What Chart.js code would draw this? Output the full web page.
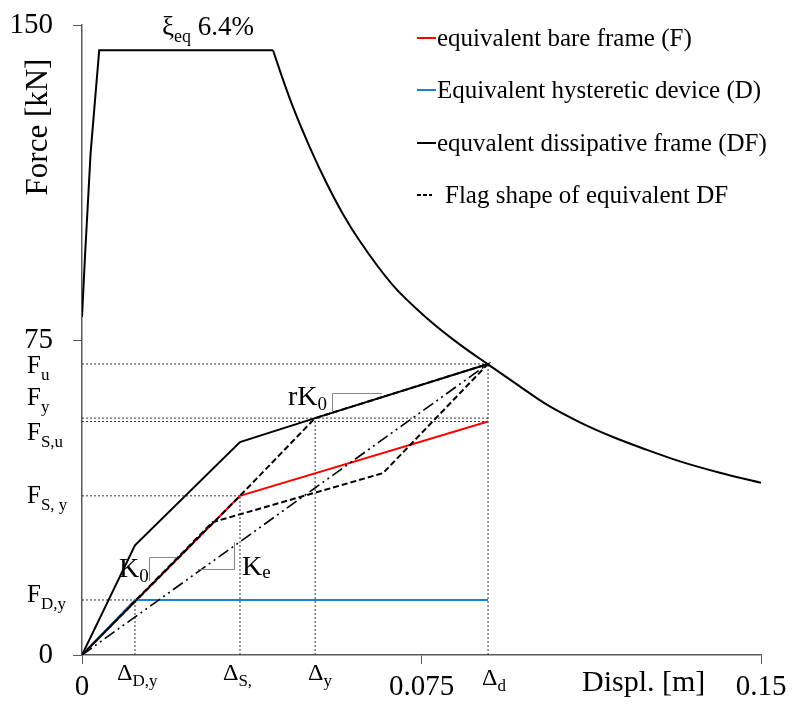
<!DOCTYPE html>
<html>
<head>
<meta charset="utf-8">
<script src="https://cdn.jsdelivr.net/npm/chart.js@4"></script>
<style>
  html, body { margin: 0; padding: 0; background: #fff; }
  #wrap { width: 793px; height: 704px; }
</style>
</head>
<body>
<div id="wrap"><canvas id="chart" width="793" height="704"></canvas></div>
<script>
const SERIF = '"Liberation Serif", "Times New Roman", serif';

// --- values ---
const xTicks = [0, 0.075, 0.15];
const xTickLabels = ['0', '0.075', '0.15'];
const yTicks = [0, 75, 150];
const yTickLabels = ['0', '75', '150'];

// characteristic displacements: Δ_D,y  Δ_S,  Δ_y  Δ_d
const dispMarks = [0.0117, 0.0349, 0.0515, 0.0897];
const dispNames = [['\u0394', 'D,y'], ['\u0394', 'S,'], ['\u0394', 'y'], ['\u0394', 'd']];

// characteristic forces: F_D,y  F_S,y  F_S,u  F_y  F_u
const forceMarks = [13.1, 37.9, 55.6, 56.4, 69.3];
const forceNames = [['F', 'D,y'], ['F', 'S, y'], ['F', 'S,u'], ['F', 'y'], ['F', 'u']];

// equivalent bare frame (F)
const frameX = [0, 0.0349, 0.0897];
const frameY = [0, 37.9, 55.6];

// equivalent hysteretic device (D)
const deviceX = [0, 0.0117, 0.0897];
const deviceY = [0, 13.1, 13.1];

// equivalent dissipative frame (DF)
const dissX = [0, 0.0117, 0.0349, 0.0515, 0.0897];
const dissY = [0, 26.1, 50.7, 56.4, 69.3];

// flag shape of equivalent DF
const flagX = [0, 0.0349, 0.0515, 0.0897, 0.0665, 0.0288, 0];
const flagY = [0, 37.9, 56.4, 69.3, 43.3, 31.6, 0];

// secant stiffness Ke
const secantX = [0, 0.0897];
const secantY = [0, 69.3];

// demand spectrum, xi_eq = 6.4% (rising branch + plateau, then the decaying branch)
const spectrumX = [0, 0.0007, 0.0019, 0.0038, 0.0422, 0.0444, 0.0466, 0.0504, 0.0541, 0.0577, 0.0614, 0.0687, 0.0762, 0.0835, 0.0897, 0.0956, 0.1027, 0.1100, 0.1173, 0.1244, 0.1321, 0.1409, 0.15];
const spectrumY = [80.5, 95.7, 119.5, 144, 144, 137.0, 130.5, 120.7, 112.2, 104.9, 98.5, 88.0, 80.2, 73.9, 69.2, 64.8, 59.6, 55.4, 51.9, 49.0, 46.1, 43.4, 41.0];
const plateauEnd = 4;

// dotted guide lines: [force index, displacement index]
const guideH = [[4, 3], [3, 3], [2, 3], [1, 1], [0, 0]];
const guideV = [[0, 0], [1, 1], [2, 3], [3, 4]];

const pts = (xs, ys) => xs.map((x, i) => ({ x: x, y: ys[i] }));

function line(label, xs, ys, color, width, dash, order) {
  return {
    label: label,
    data: pts(xs, ys),
    showLine: true,
    borderColor: color,
    backgroundColor: color,
    borderWidth: width,
    borderDash: dash,
    pointRadius: 0,
    fill: false,
    order: order
  };
}

const datasets = [
  line('equivalent bare frame (F)', frameX, frameY, '#ff0000', 2, [], 4),
  line('Equivalent hysteretic device (D)', deviceX, deviceY, '#1a80d6', 2, [], 3),
  line('equvalent dissipative frame (DF)', dissX, dissY, '#000', 2, [], 5),
  line('Flag shape of equivalent DF', flagX, flagY, '#000', 2, [6, 3], 1),
  line('', secantX, secantY, '#000', 1.6, [12, 4, 2, 4, 2, 4], 2),
  line('', spectrumX.slice(0, plateauEnd + 1), spectrumY.slice(0, plateauEnd + 1), '#000', 2, [], 6),
  Object.assign(line('', spectrumX.slice(plateauEnd), spectrumY.slice(plateauEnd), '#000', 2, [], 6),
    { cubicInterpolationMode: 'monotone' })
];
const legendCount = 4;

guideH.forEach(([f, d]) => {
  datasets.push(line('', [0, dispMarks[d]], [forceMarks[f], forceMarks[f]], '#333', 1, [2, 2], 7));
});
guideV.forEach(([d, f]) => {
  datasets.push(line('', [dispMarks[d], dispMarks[d]], [0, forceMarks[f]], '#333', 1, [2, 2], 7));
});

function subText(ctx, x, y, main, sub, size, subSize, drop) {
  ctx.font = size + 'px ' + SERIF;
  ctx.fillText(main, x, y);
  const w = ctx.measureText(main).width;
  ctx.font = subSize + 'px ' + SERIF;
  ctx.fillText(sub, x + w, y + drop);
  return x + w + ctx.measureText(sub).width;
}

function seg(ctx, x1, y1, x2, y2) {
  ctx.beginPath();
  ctx.moveTo(x1, y1);
  ctx.lineTo(x2, y2);
  ctx.stroke();
}

const annotations = {
  id: 'annotations',
  afterDraw(chart) {
    const ctx = chart.ctx;
    const xs = chart.scales.x;
    ctx.save();
    ctx.fillStyle = '#000';
    ctx.textAlign = 'left';
    ctx.textBaseline = 'alphabetic';

    // force labels on the left
    const fBase = [602, 503, 440, 405, 373];
    forceNames.forEach((n, i) => subText(ctx, 27, fBase[i], n[0], n[1], 25, 17, 7));

    // displacement labels under the axis
    const dOff = [-18, -17, -7, -6];
    const dBase = [680, 680, 680, 685];
    dispNames.forEach((n, i) => {
      const px = xs.getPixelForValue(dispMarks[i]) + dOff[i];
      subText(ctx, px, dBase[i], n[0], n[1], 24, 17, 6);
    });

    // axis titles
    ctx.font = '30px ' + SERIF;
    ctx.fillText('Displ. [m]', 582, 691);
    ctx.save();
    ctx.translate(47, 127);
    ctx.rotate(-Math.PI / 2);
    ctx.textAlign = 'center';
    ctx.font = '31px ' + SERIF;
    ctx.fillText('Force [kN]', 0, 0);
    ctx.restore();

    // damping label
    let x = subText(ctx, 162, 35, '\u03be', 'eq', 27, 18, 7);
    ctx.font = '27px ' + SERIF;
    ctx.fillText(' 6.4%', x, 35);

    // stiffness labels
    subText(ctx, 288, 405, 'rK', '0', 28, 19, 5);
    subText(ctx, 119, 577, 'K', '0', 28, 19, 5);
    subText(ctx, 242, 575, 'K', 'e', 28, 19, 3);

    ctx.strokeStyle = '#888';
    ctx.lineWidth = 1;
    seg(ctx, 332.5, 393.5, 382, 393.5);
    seg(ctx, 332.5, 393.5, 332.5, 411);
    seg(ctx, 149.5, 557.5, 177, 557.5);
    seg(ctx, 149.5, 557.5, 149.5, 581);
    seg(ctx, 234.5, 542, 234.5, 569.5);
    seg(ctx, 198, 569.5, 234.5, 569.5);

    // legend
    const rows = [38, 90, 143, 195];
    chart.data.datasets.slice(0, legendCount).forEach((ds, i) => {
      const y = rows[i];
      ctx.strokeStyle = ds.borderColor;
      ctx.lineWidth = 2;
      const dashed = ds.borderDash.length > 0;
      ctx.setLineDash(dashed ? [4, 2] : []);
      seg(ctx, 417, y, dashed ? 432 : 436, y);
      ctx.setLineDash([]);
      ctx.font = '25px ' + SERIF;
      ctx.fillText(ds.label, dashed ? 445 : 437, y + 8);
    });
    ctx.restore();
  }
};

new Chart(document.getElementById('chart'), {
  type: 'scatter',
  data: { datasets: datasets },
  options: {
    responsive: false,
    animation: false,
    layout: { padding: { top: 25, right: 32, left: 0, bottom: 0 } },
    plugins: { legend: { display: false }, tooltip: { enabled: false } },
    scales: {
      x: {
        type: 'linear',
        min: 0,
        max: 0.15,
        afterBuildTicks: s => { s.ticks = xTicks.map(v => ({ value: v })); },
        afterFit: s => { s.height = 49; s.paddingLeft = 0; s.paddingRight = 0; },
        grid: { drawOnChartArea: false, drawTicks: true, tickLength: 9, color: '#595959' },
        border: { color: '#595959', width: 1.5 },
        ticks: {
          color: '#000',
          font: { family: SERIF, size: 29 },
          padding: 6,
          maxRotation: 0,
          callback: (v, i) => xTickLabels[i]
        }
      },
      y: {
        type: 'linear',
        min: 0,
        max: 150,
        afterBuildTicks: s => { s.ticks = yTicks.map(v => ({ value: v })); },
        afterFit: s => { s.width = 82; s.paddingTop = 0; s.paddingBottom = 0; },
        grid: { drawOnChartArea: false, drawTicks: true, tickLength: 9, color: '#595959' },
        border: { color: '#595959', width: 1.5 },
        ticks: {
          color: '#000',
          font: { family: SERIF, size: 29 },
          padding: 20,
          callback: (v, i) => yTickLabels[i]
        }
      }
    }
  },
  plugins: [annotations]
});
</script>
</body>
</html>
